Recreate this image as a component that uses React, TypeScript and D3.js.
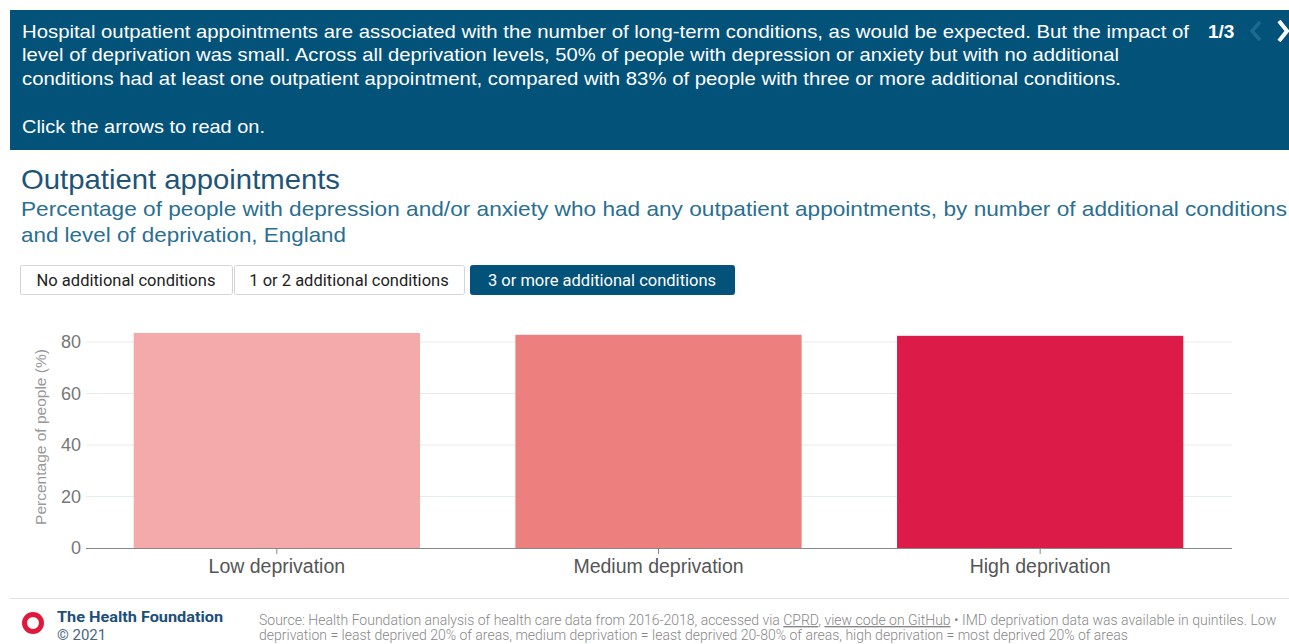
import React from "react";
import * as d3 from "d3";

// chart values
const categories = ["Low deprivation", "Medium deprivation", "High deprivation"];
const values = [83.5, 82.8, 82.4];
const barColors = ["#f4a9aa", "#ee7f7f", "#dd1b48"];
const yTicks = [0, 20, 40, 60, 80];
const buttons = ["No additional conditions", "1 or 2 additional conditions", "3 or more additional conditions"];

const bannerLines = [
  "Hospital outpatient appointments are associated with the number of long-term conditions, as would be expected. But the impact of",
  "level of deprivation was small. Across all deprivation levels, 50% of people with depression or anxiety but with no additional",
  "conditions had at least one outpatient appointment, compared with 83% of people with three or more additional conditions.",
];
const bannerWidths = [1167, 1097, 1099];

const W = 1289;
const H = 644;
const dark = "#02527a";

const App = () => {
  const margin = { top: 342, left: 86, right: 58, bottom: 96 };
  const x = d3
    .scaleBand()
    .domain(categories)
    .range([margin.left, W - margin.right])
    .paddingInner(0.25)
    .paddingOuter(0.125);
  const y = d3.scaleLinear().domain([0, 80]).range([H - margin.bottom, margin.top]);

  const btnBoxes = [
    { x: 20, w: 212 },
    { x: 234, w: 230 },
    { x: 470, w: 264 },
  ];

  return (
    <svg
      width={W}
      height={H}
      style={{ position: "absolute", left: 0, top: 0, fontFamily: "Arial, 'Liberation Sans', sans-serif" }}
    >
      <rect x={0} y={0} width={W} height={H} fill="#fff" />
      {/* banner */}
      <rect x={10} y={10} width={W - 10} height={140} fill={dark} />
      {bannerLines.map((t, i) => (
        <text
          key={i}
          x={22}
          y={37.5 + i * 23.5}
          fill="#fff"
          fontSize={18.5}
          textLength={bannerWidths[i]}
          lengthAdjust="spacingAndGlyphs"
        >
          {t}
        </text>
      ))}
      <text x={22} y={132.5} fill="#fff" fontSize={18.5} textLength={243} lengthAdjust="spacingAndGlyphs">
        Click the arrows to read on.
      </text>
      <text x={1208} y={38} fill="#fff" fontSize={19} fontWeight="bold">
        1/3
      </text>
      <path d="M1260,22 L1252,31 L1260,40" fill="none" stroke="#1d6a8f" strokeWidth={3.5} />
      <path d="M1279,21 L1287,31 L1279,41" fill="none" stroke="#fff" strokeWidth={4} />

      {/* titles */}
      <text x={21} y={189} fill="#1d5478" fontSize={28} textLength={319} lengthAdjust="spacingAndGlyphs">
        Outpatient appointments
      </text>
      <text x={21} y={216} fill="#2a6f92" fontSize={21} textLength={1266} lengthAdjust="spacingAndGlyphs">
        Percentage of people with depression and/or anxiety who had any outpatient appointments, by number of additional conditions
      </text>
      <text x={21} y={242} fill="#2a6f92" fontSize={21} textLength={325} lengthAdjust="spacingAndGlyphs">
        and level of deprivation, England
      </text>

      {/* buttons */}
      {buttons.map((b, i) => {
        const active = i === 2;
        const bx = btnBoxes[i];
        return (
          <g key={b}>
            <rect
              x={bx.x + 0.5}
              y={265.5}
              width={bx.w}
              height={29}
              rx={2}
              fill={active ? dark : "#fff"}
              stroke={active ? dark : "#d4d4d4"}
            />
            <text
              x={bx.x + bx.w / 2}
              y={285.5}
              textAnchor="middle"
              fontSize={16.5}
              fontWeight={400}
              fill={active ? "#fff" : "#222"}
              style={{ fontFamily: "Roboto, sans-serif" }}
            >
              {b}
            </text>
          </g>
        );
      })}

      {/* gridlines */}
      {yTicks.map((t) => (
        <g key={t}>
          {t > 0 && (
            <line x1={margin.left} x2={1232} y1={y(t)} y2={y(t)} stroke="#e6ece6" strokeWidth={1} />
          )}
          <text x={81} y={y(t)} dy="0.35em" textAnchor="end" fontSize={18} fill="#777">
            {t}
          </text>
        </g>
      ))}
      <text
        transform={`translate(46,437) rotate(-90)`}
        textAnchor="middle"
        fontSize={15.5}
        fill="#999"
      >
        Percentage of people (%)
      </text>

      {/* bars */}
      {categories.map((c, i) => (
        <rect
          key={c}
          x={x(c)}
          y={y(values[i])}
          width={x.bandwidth()}
          height={y(0) - y(values[i])}
          fill={barColors[i]}
        />
      ))}

      {/* x axis */}
      <line x1={margin.left} x2={1232} y1={y(0) + 0.5} y2={y(0) + 0.5} stroke="#888" strokeWidth={1} />
      {categories.map((c) => (
        <g key={c}>
          <line
            x1={(x(c) ?? 0) + x.bandwidth() / 2}
            x2={(x(c) ?? 0) + x.bandwidth() / 2}
            y1={y(0)}
            y2={y(0) + 6}
            stroke="#888"
          />
          <text x={(x(c) ?? 0) + x.bandwidth() / 2} y={573} textAnchor="middle" fontSize={19.5} fill="#555">
            {c}
          </text>
        </g>
      ))}

      {/* footer */}
      <line x1={10} x2={W} y1={598.5} y2={598.5} stroke="#e3e3e3" />
      <circle cx={33} cy={623} r={8.5} fill="none" stroke="#e0193c" strokeWidth={5} />
      <text
        x={57}
        y={622}
        fontSize={14.5}
        fontWeight="bold"
        fill="#1d4f7a"
        textLength={166}
        lengthAdjust="spacingAndGlyphs"
        style={{ fontFamily: "Roboto, sans-serif" }}
      >
        The Health Foundation
      </text>
      <text x={57} y={640} fontSize={15} fill="#4a6585" style={{ fontFamily: "Roboto, sans-serif" }}>
        © 2021
      </text>
      <text x={259} y={625} fontSize={14} fill="#888" style={{ fontFamily: "Roboto, sans-serif", fontWeight: 300 }}>
        Source: Health Foundation analysis of health care data from 2016-2018, accessed via{" "}
        <tspan textDecoration="underline">CPRD</tspan>,{" "}
        <tspan textDecoration="underline">view code on GitHub</tspan> • IMD deprivation data was available in quintiles. Low
      </text>
      <text x={259} y={640} fontSize={14} fill="#888" style={{ fontFamily: "Roboto, sans-serif", fontWeight: 300 }}>
        deprivation = least deprived 20% of areas, medium deprivation = least deprived 20-80% of areas, high deprivation = most
        deprived 20% of areas
      </text>
    </svg>
  );
};

export default App;
